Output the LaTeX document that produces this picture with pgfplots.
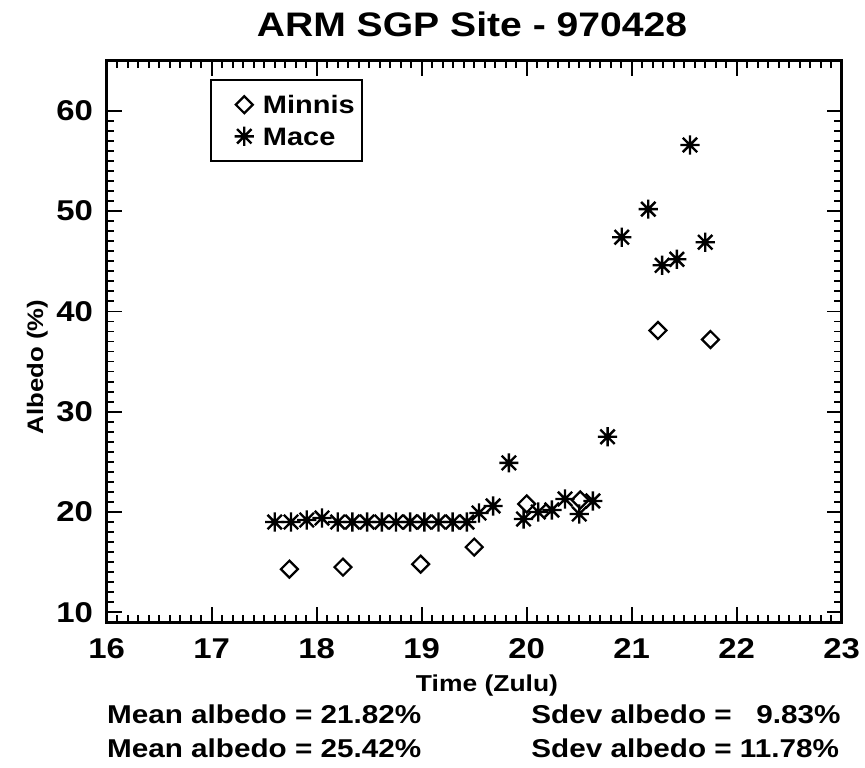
\documentclass[border=0pt]{standalone}
\usepackage{fontspec}
\setmainfont{Liberation Sans}[FakeStretch=1.15]
\usepackage{pgfplots}
\pgfplotsset{compat=1.18}

\pgfdeclareplotmark{idlstar}{%
  \pgfpathmoveto{\pgfqpoint{0pt}{\pgfplotmarksize}}%
  \pgfpathlineto{\pgfqpoint{0pt}{-\pgfplotmarksize}}%
  \pgfpathmoveto{\pgfqpoint{\pgfplotmarksize}{0pt}}%
  \pgfpathlineto{\pgfqpoint{-\pgfplotmarksize}{0pt}}%
  \pgfpathmoveto{\pgfqpoint{.75\pgfplotmarksize}{.75\pgfplotmarksize}}%
  \pgfpathlineto{\pgfqpoint{-.75\pgfplotmarksize}{-.75\pgfplotmarksize}}%
  \pgfpathmoveto{\pgfqpoint{-.75\pgfplotmarksize}{.75\pgfplotmarksize}}%
  \pgfpathlineto{\pgfqpoint{.75\pgfplotmarksize}{-.75\pgfplotmarksize}}%
  \pgfusepathqstroke}

\pgfplotstableread{
x y
17.74 14.3
18.25 14.5
18.99 14.8
19.50 16.5
20.00 20.8
20.51 21.2
21.25 38.1
21.75 37.2
}\minnis

\pgfplotstableread{
x y
17.600 19.0
17.755 19.0
17.905 19.2
18.050 19.4
18.200 19.0
18.340 19.0
18.480 19.0
18.620 19.0
18.755 19.0
18.890 19.0
19.025 19.0
19.160 19.0
19.295 19.0
19.430 19.0
19.546 19.9
19.680 20.6
19.830 24.9
19.970 19.3
20.110 20.0
20.240 20.2
20.365 21.3
20.500 19.8
20.630 21.1
20.770 27.5
20.905 47.4
21.158 50.2
21.290 44.6
21.430 45.2
21.555 56.6
21.700 46.9
}\mace

\begin{document}
\begin{tikzpicture}
\useasboundingbox (-53.35pt,-72.35pt) rectangle (379.15pt,311.15pt);
\begin{axis}[
  at={(0pt,0pt)}, anchor=south west, scale only axis,
  width=367.5pt, height=280.8pt,
  xmin=16, xmax=23, ymin=9, ymax=65,
  xtick={16,...,23}, ytick={10,20,...,60},
  minor x tick num=9, minor y tick num=9,
  tick align=inside,
  major tick length=7.5pt, minor tick length=3.8pt,
  axis line style={line width=1.3pt},
  every tick/.style={black, line width=0.9pt},
  /pgf/number format/assume math mode=true,
  ticklabel style={font=\fontsize{14.3}{16}\selectfont\bfseries},
  xticklabel style={anchor=base, yshift=-17.85pt},
  yticklabel style={anchor=east, inner sep=0pt, xshift=-6.7pt},
  legend style={at={(0.1405,0.9674)}, anchor=north west, draw=black,
    line width=1pt, inner xsep=3.65pt, inner ysep=4.45pt, row sep=0pt,
    column sep=4.35pt, font=\fontsize{12.6}{15}\selectfont\bfseries,
    nodes={inner sep=0pt, text height=9pt, text depth=0pt}},
  legend cell align=left,
  legend image code/.code={\path[draw=none, fill=none] (-13pt,-7.9pt) rectangle (5pt,7.9pt);
    \draw[#1] plot[only marks] coordinates {(0pt,0pt)};},
]
\addplot[only marks, black, mark=square, mark size=3pt, line width=1.1pt,
  mark options={rotate=45}] table[x=x,y=y] {\minnis};
\addlegendentry{Minnis}
\addplot[only marks, black, mark=idlstar, mark size=4.8pt, line width=1.2pt]
  table[x=x,y=y] {\mace};
\addlegendentry{Mace}
\end{axis}
\node[anchor=base, inner sep=0pt, font=\fontsize{17}{19}\selectfont\bfseries] at (182.65pt,292.8pt) {ARM SGP Site - 970428};
\node[anchor=base, inner sep=0pt, font=\fontsize{11.5}{14}\selectfont\bfseries] at (190.15pt,-34.35pt) {Time (Zulu)};
\node[anchor=base, inner sep=0pt, rotate=90, font=\fontsize{11.2}{14}\selectfont\bfseries] at (-31.85pt,127.65pt) {Albedo (\%)};
\begin{scope}[every node/.style={anchor=base west, inner sep=0pt, font=\fontsize{12.9}{15}\selectfont\bfseries}]
\node at (0pt,-50.35pt) {Mean albedo = 21.82\%};
\node at (0pt,-67.35pt) {Mean albedo = 25.42\%};
\node at (212.15pt,-50.35pt) {Sdev albedo = \phantom{1}9.83\%};
\node at (212.15pt,-67.35pt) {Sdev albedo = 11.78\%};
\end{scope}
\end{tikzpicture}
\end{document}
